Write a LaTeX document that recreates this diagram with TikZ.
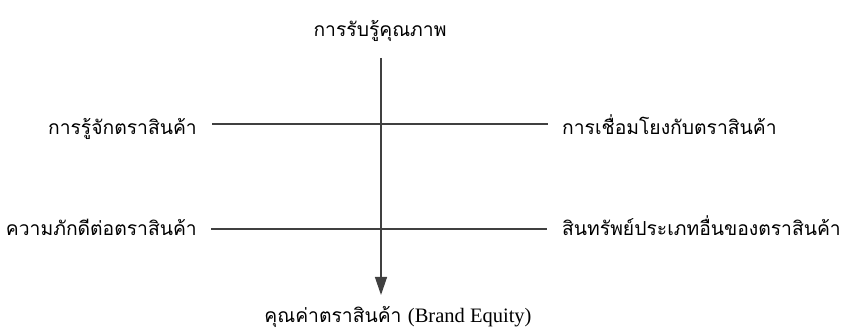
\documentclass[tikz,border=0pt]{standalone}
\usepackage{fontspec}
\newfontfamily\thaifont[Script=Thai]{Loma}
\newfontfamily\latserif{Liberation Serif}
\usetikzlibrary{arrows.meta}
\begin{document}
\begin{tikzpicture}[x=1pt,y=1pt,
  lbl/.style={inner sep=0pt,font=\thaifont\fontsize{19.3}{22}\selectfont},
  conn/.style={line width=1.3pt,draw=black!75}]
\useasboundingbox (0,0) rectangle (849,331);
\node[lbl,anchor=base] (top) at (380,294) {การรับรู้คุณภาพ};
\coordinate (vs) at (381,273);
\coordinate (ve) at (381,36);
\node[lbl,anchor=base east] (l1) at (197,196) {การรู้จักตราสินค้า};
\node[lbl,anchor=base west] (r1) at (562,196) {การเชื่อมโยงกับตราสินค้า};
\node[lbl,anchor=base east] (l2) at (197,95) {ความภักดีต่อตราสินค้า};
\node[lbl,anchor=base west] (r2) at (562,95) {สินทรัพย์ประเภทอื่นของตราสินค้า};
\node[lbl,anchor=base] (bot) at (398,8) {คุณค่าตราสินค้า {\latserif\fontsize{20.5}{22}\selectfont (Brand Equity)}};
\coordinate (h1a) at (212,207);
\coordinate (h1b) at (548,207);
\coordinate (h2a) at (211,102);
\coordinate (h2b) at (547,102);
\draw[conn] (h1a) -- (h1b);
\draw[conn] (h2a) -- (h2b);
\draw[conn,-{Triangle[width=12pt,length=18pt]}] (vs) -- (ve);
\end{tikzpicture}
\end{document}
